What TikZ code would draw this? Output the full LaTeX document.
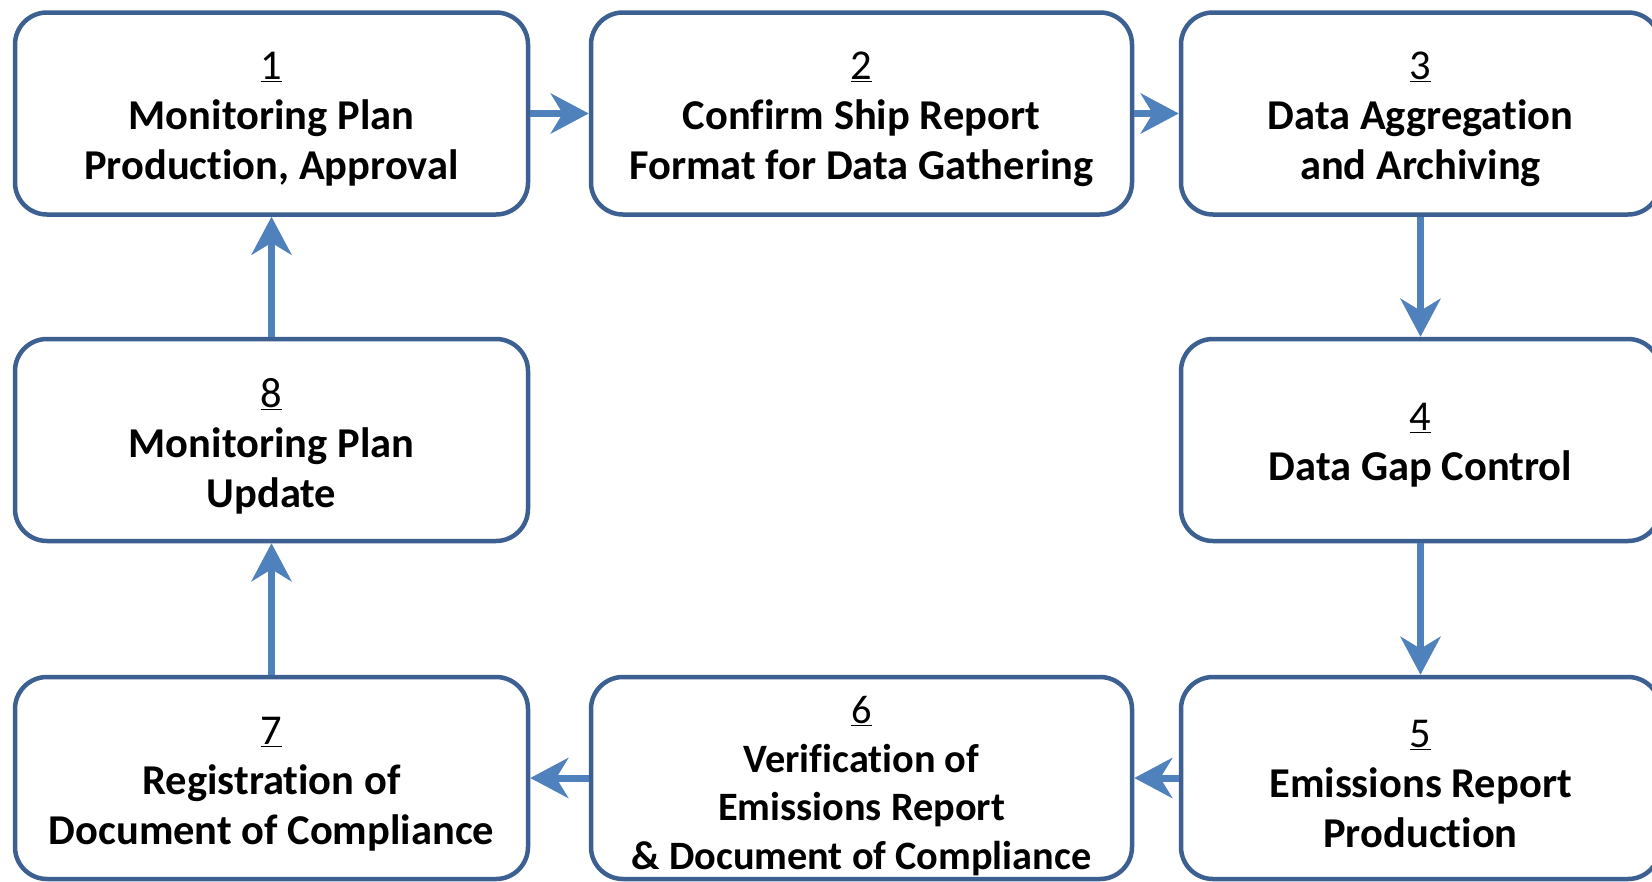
\documentclass[tikz,border=0pt]{standalone}
\usepackage{fontspec}
\setmainfont{Carlito}[Ligatures={NoCommon}]
\usetikzlibrary{arrows.meta}
\definecolor{boxline}{RGB}{60,96,145}
\definecolor{flow}{RGB}{79,129,189}
\tikzset{
  stagebox/.style={draw=boxline, line width=4.5pt, rounded corners=32pt,
    fill=white, inner sep=0pt, minimum height=202pt},
  stagetext/.style={align=center, inner sep=0pt,
    font=\fontsize{42.5}{50}\selectfont\bfseries},
  smalltext/.style={stagetext, font=\fontsize{40.3}{48.5}\selectfont\bfseries},
  flowarrow/.style={draw=flow, line width=7pt,
    -{Stealth[length=38pt, width=40pt, inset=12pt, fill=flow]}},
}
\newcommand{\stagenum}[1]{\underline{\mdseries #1}}
\begin{document}
\begin{tikzpicture}[x=1pt, y=-1pt]
  \useasboundingbox (0,0) rectangle (1652,881);
  \clip (0,0) rectangle (1652,881);
  \fill[white] (0,0) rectangle (1652,881);

  % top row
  \node[stagebox, minimum width=513pt] (b1) at (271.5,113.5) {};
  \node[stagebox, minimum width=541pt] (b2) at (861.5,113.5) {};
  \node[stagebox, minimum width=479pt] (b3) at (1420.5,113.5) {};
  % middle row
  \node[stagebox, minimum width=513pt] (b8) at (271.5,440) {};
  \node[stagebox, minimum width=479pt] (b4) at (1420.5,440) {};
  % bottom row
  \node[stagebox, minimum width=513pt] (b7) at (271.5,778) {};
  \node[stagebox, minimum width=541pt] (b6) at (861.5,778) {};
  \node[stagebox, minimum width=479pt] (b5) at (1420.5,778) {};

  % stage captions
  \node[stagetext] (t1) at ([yshift=-6pt]b1.center)
    {\stagenum{1}\\Monitoring Plan\\Production, Approval};
  \node[stagetext] (t2) at ([yshift=-6pt]b2.center)
    {\stagenum{2}\\Confirm Ship Report\\Format for Data Gathering};
  \node[stagetext] (t3) at ([yshift=-6pt]b3.center)
    {\stagenum{3}\\Data Aggregation\\and Archiving};
  \node[stagetext] (t8) at ([yshift=-6pt]b8.center)
    {\stagenum{8}\\Monitoring Plan\\Update};
  \node[stagetext] (t4) at ([yshift=-5pt]b4.center)
    {\stagenum{4}\\Data Gap Control};
  \node[stagetext] (t7) at ([yshift=-6pt]b7.center)
    {\stagenum{7}\\Registration of\\Document of Compliance};
  \node[smalltext] (t6) at ([yshift=-8pt]b6.center)
    {\stagenum{6}\\Verification of\\Emissions Report\\\& Document of Compliance};
  \node[stagetext] (t5) at ([yshift=-6pt]b5.center)
    {\stagenum{5}\\Emissions Report\\Production};

  % process flow
  \draw[flowarrow] (b1.east) -- (b2.west);
  \draw[flowarrow] (b2.east) -- (b3.west);
  \draw[flowarrow] (b3.south) -- (b4.north);
  \draw[flowarrow] (b4.south) -- (b5.north);
  \draw[flowarrow] (b5.west) -- (b6.east);
  \draw[flowarrow] (b6.west) -- (b7.east);
  \draw[flowarrow] (b7.north) -- (b8.south);
  \draw[flowarrow] (b8.north) -- (b1.south);
\end{tikzpicture}
\end{document}
